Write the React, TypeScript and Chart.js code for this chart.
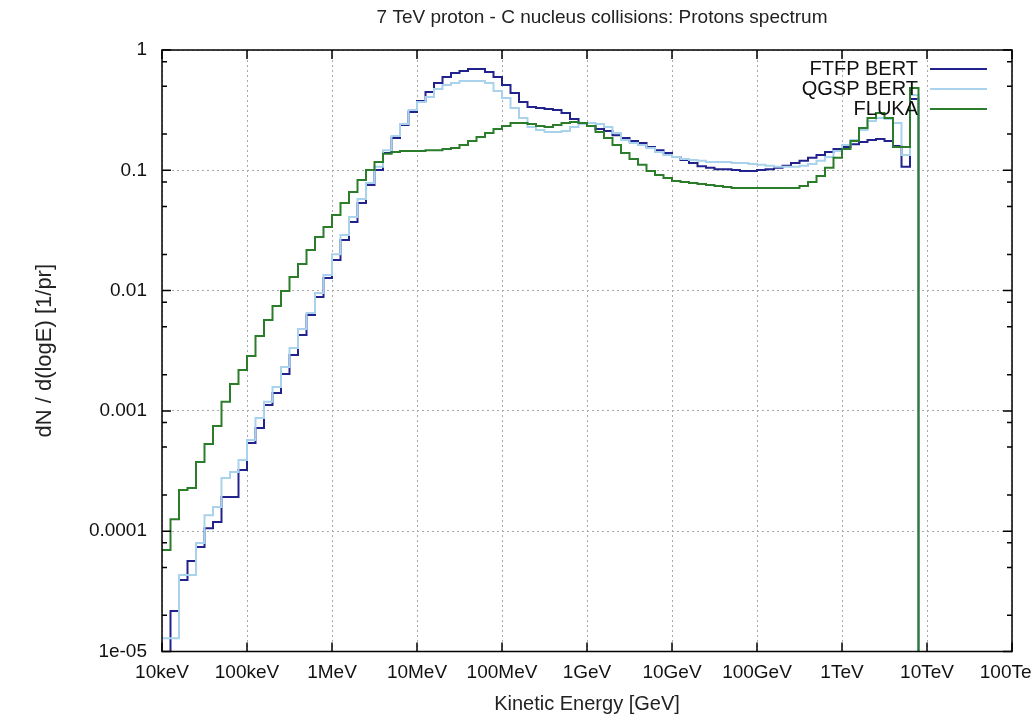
import React, { useEffect, useRef } from 'react';
import { Chart, registerables } from 'chart.js';

Chart.register(...registerables);

// Histogram binning: 10 bins per decade, first bin edge at 10 keV (1e-5 GeV)
const LOG_E_MIN = -5;
const BINS_PER_DECADE = 10;
const ZERO_FLOOR = 1e-9; // empty bins, drawn below the log axis

const FTFP_BERT = [
  0, 2.17e-5, 3.93e-5, 5.65e-5, 7.39e-5, 1.06e-4, 1.19e-4, 1.92e-4, 1.92e-4, 3.23e-4,
  5.41e-4, 7.21e-4, 1.12e-3, 1.41e-3, 2.03e-3, 2.92e-3, 4.28e-3, 6.27e-3, 8.85e-3, 0.0127,
  0.018, 0.0263, 0.0372, 0.0535, 0.0755, 0.1006, 0.139, 0.186, 0.238, 0.305,
  0.377, 0.448, 0.532, 0.596, 0.644, 0.669, 0.695, 0.695, 0.657, 0.596,
  0.512, 0.439, 0.37, 0.336, 0.33, 0.323, 0.317, 0.3, 0.267, 0.247,
  0.233, 0.22, 0.212, 0.196, 0.186, 0.175, 0.169, 0.156, 0.147, 0.139,
  0.129, 0.122, 0.115, 0.108, 0.105, 0.102, 0.102, 0.1006, 0.0987, 0.0987,
  0.1006, 0.102, 0.105, 0.109, 0.115, 0.12, 0.127, 0.134, 0.142, 0.15,
  0.156, 0.165, 0.172, 0.179, 0.182, 0.175, 0.159, 0.107, 0.392, 0,
];

const QGSP_BERT = [
  1.29e-5, 1.29e-5, 4.32e-5, 4.32e-5, 7.98e-5, 1.36e-4, 1.59e-4, 2.77e-4, 3.1e-4, 3.91e-4,
  5.73e-4, 8.73e-4, 1.19e-3, 1.58e-3, 2.32e-3, 3.33e-3, 4.8e-3, 6.52e-3, 9.55e-3, 0.0135,
  0.0201, 0.029, 0.0409, 0.0577, 0.0784, 0.107, 0.147, 0.193, 0.243, 0.317,
  0.37, 0.407, 0.474, 0.512, 0.532, 0.552, 0.552, 0.552, 0.532, 0.456,
  0.399, 0.33, 0.272, 0.229, 0.216, 0.208, 0.208, 0.212, 0.229, 0.243,
  0.247, 0.243, 0.229, 0.204, 0.179, 0.169, 0.162, 0.153, 0.142, 0.134,
  0.129, 0.124, 0.122, 0.12, 0.117, 0.117, 0.117, 0.115, 0.115, 0.113,
  0.111, 0.109, 0.107, 0.107, 0.107, 0.109, 0.113, 0.12, 0.129, 0.145,
  0.162, 0.179, 0.216, 0.257, 0.272, 0.267, 0.247, 0.134, 0.423, 0,
];

const FLUKA = [
  6.98e-5, 1.26e-4, 2.2e-4, 2.29e-4, 3.76e-4, 5.31e-4, 7.5e-4, 1.19e-3, 1.67e-3, 2.19e-3,
  2.86e-3, 4.2e-3, 5.7e-3, 7.45e-3, 9.93e-3, 0.013, 0.0166, 0.0217, 0.0279, 0.0338,
  0.0425, 0.0535, 0.066, 0.083, 0.1006, 0.117, 0.137, 0.142, 0.145, 0.145,
  0.145, 0.147, 0.147, 0.15, 0.153, 0.162, 0.175, 0.189, 0.204, 0.22,
  0.233, 0.247, 0.247, 0.243, 0.233, 0.229, 0.238, 0.247, 0.252, 0.247,
  0.233, 0.208, 0.186, 0.162, 0.139, 0.124, 0.111, 0.0987, 0.0914, 0.0863,
  0.0815, 0.0799, 0.0784, 0.0769, 0.0755, 0.0741, 0.0727, 0.0713, 0.0713, 0.0713,
  0.0713, 0.0713, 0.0713, 0.0713, 0.0713, 0.0741, 0.0799, 0.0897, 0.105, 0.127,
  0.15, 0.175, 0.225, 0.272, 0.3, 0.272, 0.156, 0.156, 0.483, 0,
];

const SERIES_NAMES = ['FTFP BERT', 'QGSP BERT', 'FLUKA'];
const SERIES_COLORS = ['#22228c', '#a9d3ec', '#2b7d2b'];

const X_TICK_VALUES = [1e-5, 1e-4, 1e-3, 1e-2, 1e-1, 1, 10, 100, 1e3, 1e4, 1e5];
const X_TICK_LABELS = ['10keV', '100keV', '1MeV', '10MeV', '100MeV', '1GeV', '10GeV', '100GeV', '1TeV', '10TeV', '100TeV'];
const Y_TICK_VALUES = [1e-5, 1e-4, 1e-3, 1e-2, 1e-1, 1];
const Y_TICK_LABELS = ['1e-05', '0.0001', '0.001', '0.01', '0.1', '1'];
const Y_MINOR_MULTIPLES = [2, 5, 8];

const TITLE = '7 TeV proton - C nucleus collisions: Protons spectrum';
const X_TITLE = 'Kinetic Energy [GeV]';
const Y_TITLE = 'dN / d(logE) [1/pr]';

const FONT = "'Liberation Sans', Arial, sans-serif";

function toSteps(values: number[]) {
  return values.map((v, k) => ({
    x: Math.pow(10, LOG_E_MIN + k / BINS_PER_DECADE),
    y: v > 0 ? v : ZERO_FLOOR,
  }));
}

const framePlugin = {
  id: 'gnuplotFrame',
  afterDatasetsDraw(chart: any) {
    const { ctx, chartArea: a, scales } = chart;
    const xs = scales.x;
    const ys = scales.y;
    ctx.save();
    ctx.strokeStyle = '#000';
    ctx.lineWidth = 1.5;
    ctx.strokeRect(a.left, a.top, a.right - a.left, a.bottom - a.top);
    ctx.beginPath();
    for (const v of X_TICK_VALUES) {
      const px = xs.getPixelForValue(v);
      ctx.moveTo(px, a.bottom);
      ctx.lineTo(px, a.bottom - 9);
      ctx.moveTo(px, a.top);
      ctx.lineTo(px, a.top + 9);
    }
    Y_TICK_VALUES.forEach((v, i) => {
      const py = ys.getPixelForValue(v);
      ctx.moveTo(a.left, py);
      ctx.lineTo(a.left + 9, py);
      ctx.moveTo(a.right, py);
      ctx.lineTo(a.right - 9, py);
      if (i < Y_TICK_VALUES.length - 1) {
        for (const m of Y_MINOR_MULTIPLES) {
          const pm = ys.getPixelForValue(v * m);
          ctx.moveTo(a.left, pm);
          ctx.lineTo(a.left + 5, pm);
          ctx.moveTo(a.right, pm);
          ctx.lineTo(a.right - 5, pm);
        }
      }
    });
    ctx.stroke();

    // gnuplot-style key: right-aligned text followed by a line sample
    ctx.font = `20px ${FONT}`;
    ctx.textAlign = 'right';
    ctx.textBaseline = 'middle';
    chart.data.datasets.forEach((ds: any, i: number) => {
      const y = a.top + 19 + i * 20;
      ctx.fillStyle = '#111';
      ctx.fillText(ds.label, a.right - 94, y);
      ctx.strokeStyle = ds.borderColor;
      ctx.lineWidth = 2;
      ctx.beginPath();
      ctx.moveTo(a.right - 82, y);
      ctx.lineTo(a.right - 25, y);
      ctx.stroke();
    });

    // plot title (gnuplot places it slightly right of the plot centre)
    ctx.font = `19px ${FONT}`;
    ctx.textAlign = 'center';
    ctx.textBaseline = 'middle';
    ctx.fillStyle = '#222';
    ctx.fillText(TITLE, (a.left + a.right) / 2 + 15, 18);
    ctx.restore();
  },
};

export default function App() {
  const canvasRef = useRef<HTMLCanvasElement | null>(null);

  useEffect(() => {
    if (!canvasRef.current) return;
    const seriesValues = [FTFP_BERT, QGSP_BERT, FLUKA];
    const chart = new Chart(canvasRef.current, {
      type: 'line',
      data: {
        datasets: seriesValues.map((vals, i) => ({
          label: SERIES_NAMES[i],
          data: toSteps(vals),
          borderColor: SERIES_COLORS[i],
          backgroundColor: SERIES_COLORS[i],
          borderWidth: 2,
          pointRadius: 0,
          stepped: 'before' as const,
          fill: false,
          order: 3 - i,
        })),
      },
      options: {
        animation: false,
        responsive: false,
        events: [],
        layout: { padding: { left: 0, right: 19, top: 50, bottom: 0 } },
        plugins: {
          legend: { display: false },
          tooltip: { enabled: false },
          title: { display: false },
        },
        scales: {
          x: {
            type: 'logarithmic',
            min: 1e-5,
            max: 1e5,
            afterBuildTicks: (scale: any) => {
              scale.ticks = X_TICK_VALUES.map((v) => ({ value: v }));
            },
            afterFit: (scale: any) => {
              scale.height = 64.5;
              scale.paddingLeft = 0;
              scale.paddingRight = 0;
            },
            ticks: {
              autoSkip: false,
              maxRotation: 0,
              padding: 10,
              color: '#111',
              font: { family: FONT, size: 19 },
              callback: (value: any) => X_TICK_LABELS[Math.round(Math.log10(Number(value))) + 5],
            },
            grid: { color: '#a8a8a8', lineWidth: 1, drawTicks: false },
            border: { display: false, dash: [2, 3] },
            title: {
              display: true,
              text: X_TITLE,
              color: '#222',
              font: { family: FONT, size: 20 },
              padding: { top: 0, bottom: 0 },
            },
          },
          y: {
            type: 'logarithmic',
            min: 1e-5,
            max: 1,
            afterBuildTicks: (scale: any) => {
              scale.ticks = Y_TICK_VALUES.map((v) => ({ value: v }));
            },
            afterFit: (scale: any) => {
              scale.width = 162;
              scale.paddingTop = 0;
              scale.paddingBottom = 0;
            },
            ticks: {
              autoSkip: false,
              padding: 15,
              color: '#111',
              font: { family: FONT, size: 19 },
              callback: (value: any) => Y_TICK_LABELS[Math.round(Math.log10(Number(value))) + 5],
            },
            grid: { color: '#a8a8a8', lineWidth: 1, drawTicks: false },
            border: { display: false, dash: [2, 3] },
            title: {
              display: true,
              text: Y_TITLE,
              color: '#222',
              font: { family: FONT, size: 22 },
              padding: { top: 32, bottom: 0 },
            },
          },
        },
      },
      plugins: [framePlugin],
    } as any);
    return () => chart.destroy();
  }, []);

  return (
    <div style={{ position: 'fixed', left: 0, top: 0, width: 1031, height: 716, background: '#fff' }}>
      <canvas ref={canvasRef} width={1031} height={716} style={{ width: 1031, height: 716 }} />
    </div>
  );
}
